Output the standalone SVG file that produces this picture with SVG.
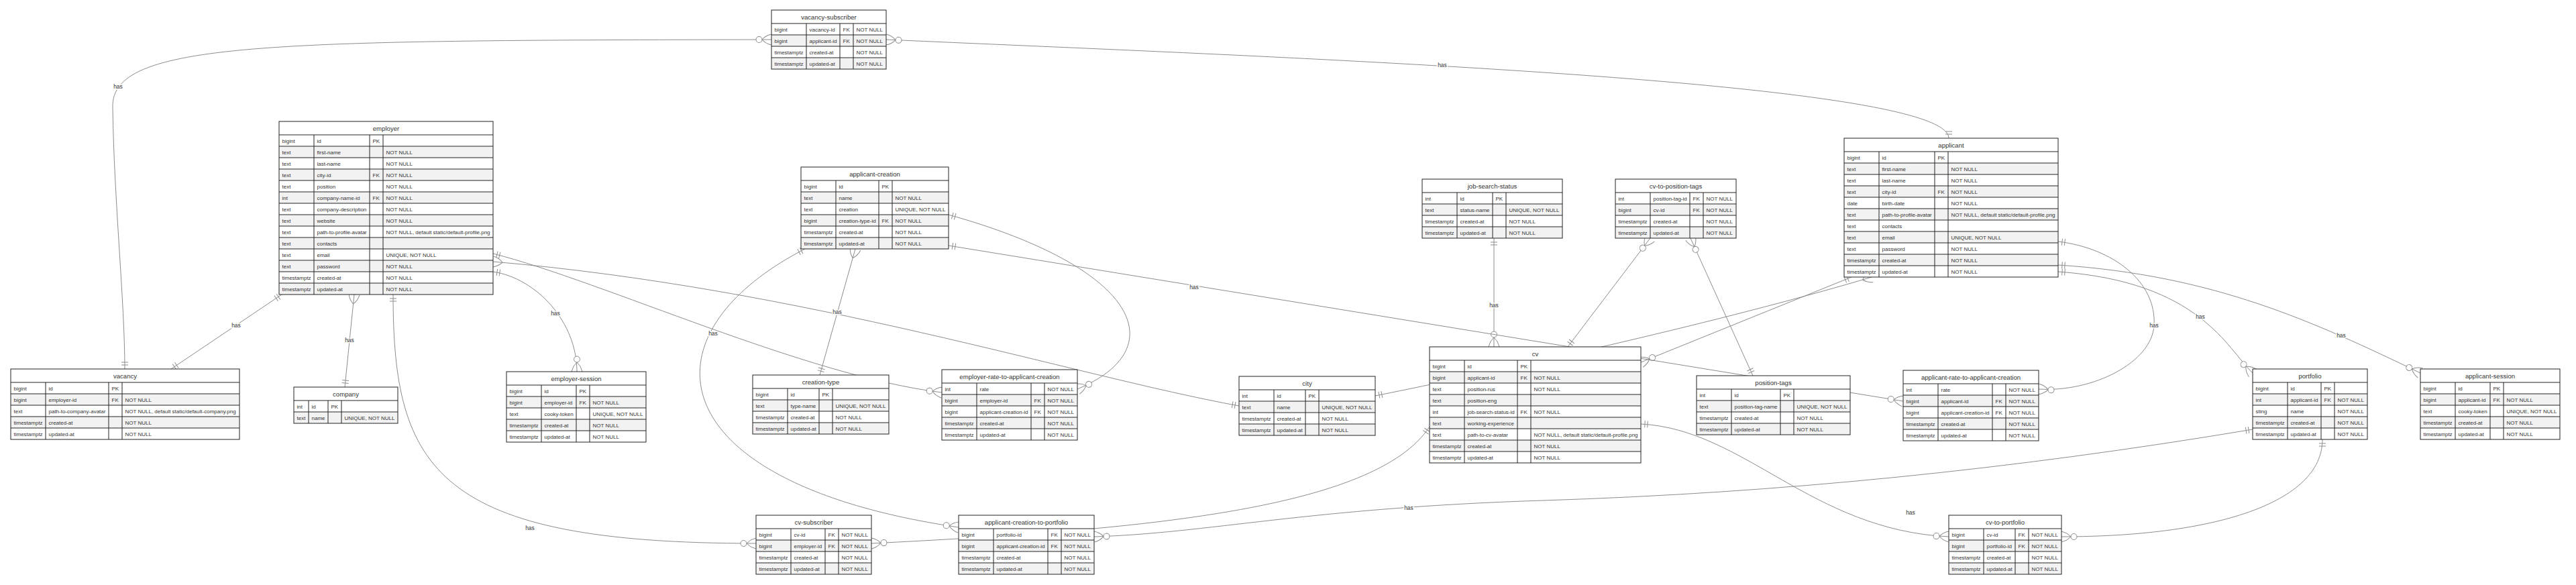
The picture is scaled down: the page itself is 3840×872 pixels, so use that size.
<svg xmlns="http://www.w3.org/2000/svg" width="3840" height="872" viewBox="0 0 3840 872">
<style>
.bg{fill:#fff}
.g{fill:#f2f2f2}
.gr{fill:none;stroke:#222;stroke-width:1}
.ob{fill:none;stroke:#222;stroke-width:1}
.t{font-family:"Liberation Sans",Arial,sans-serif;font-size:8px;fill:#333}
.h{font-family:"Liberation Sans",Arial,sans-serif;font-size:9.6px;fill:#333;text-anchor:middle}
.c{fill:none;stroke:#8c8c8c;stroke-width:1}
.lbl{font-family:"Liberation Sans",Arial,sans-serif;font-size:8.5px;fill:#333;text-anchor:middle;stroke:#fff;stroke-width:3;paint-order:stroke}
.mk{fill:none;stroke:#8c8c8c;stroke-width:1}
.mc{fill:#fff;stroke:#8c8c8c;stroke-width:1}
</style>
<defs>
<marker id="mo" markerUnits="userSpaceOnUse" markerWidth="1" markerHeight="1" refX="0" refY="0" orient="auto-start-reverse" overflow="visible"><path class="mk" d="M0,-8Q-9,-6 -14,0M0,8Q-9,6 -14,0"/><circle class="mc" cx="-18.5" cy="0" r="4.5"/></marker>
<marker id="mn" markerUnits="userSpaceOnUse" markerWidth="1" markerHeight="1" refX="0" refY="0" orient="auto-start-reverse" overflow="visible"><path class="mk" d="M0,-8Q-9,-6 -14,0M0,8Q-9,6 -14,0"/></marker>
<marker id="o1" markerUnits="userSpaceOnUse" markerWidth="1" markerHeight="1" refX="0" refY="0" orient="auto-start-reverse" overflow="visible"><path class="mk" d="M-6,-5V5M-10,-5V5"/></marker>
</defs>
<rect width="3840" height="872" fill="#fff"/>
<g id="connectors">
<path class="c" d="M1150,59C400,60 165,62 168,160C170,300 186,450 186,550" marker-start="url(#mo)" marker-end="url(#o1)"/>
<path class="c" d="M1321,59C1900,85 2905,120 2905,206" marker-start="url(#mo)" marker-end="url(#o1)"/>
<path class="c" d="M420,439L255,550" marker-start="url(#o1)" marker-end="url(#o1)"/>
<path class="c" d="M528,439L514,577" marker-start="url(#mn)" marker-end="url(#o1)"/>
<path class="c" d="M735,405C800,415 860,480 860,554" marker-start="url(#o1)" marker-end="url(#mo)"/>
<path class="c" d="M586,439C586,700 650,810 1127,810" marker-start="url(#o1)" marker-end="url(#mo)"/>
<path class="c" d="M735,378C900,420 1200,560 1404,585" marker-start="url(#o1)" marker-end="url(#mo)"/>
<path class="c" d="M1275,371L1222,559" marker-start="url(#mn)" marker-end="url(#o1)"/>
<path class="c" d="M1200,371C950,500 980,720 1429,786" marker-start="url(#o1)" marker-end="url(#mo)"/>
<path class="c" d="M1299,810C1700,790 2050,760 2131,636" marker-start="url(#mo)" marker-end="url(#o1)"/>
<path class="c" d="M2227,355L2227,517" marker-start="url(#o1)" marker-end="url(#mo)"/>
<path class="c" d="M2460,355L2337,517" marker-start="url(#mo)" marker-end="url(#o1)"/>
<path class="c" d="M2520,355L2613,560" marker-start="url(#mo)" marker-end="url(#o1)"/>
<path class="c" d="M2760,413L2446,540" marker-start="url(#o1)" marker-end="url(#mo)"/>
<path class="c" d="M3068,360C3150,370 3215,420 3211,485C3208,540 3120,585 3039,580" marker-start="url(#o1)" marker-end="url(#mo)"/>
<path class="c" d="M1414,366L2837,598" marker-start="url(#o1)" marker-end="url(#mo)"/>
<path class="c" d="M1414,320C1700,400 1750,520 1606,580" marker-start="url(#o1)" marker-end="url(#mo)"/>
<path class="c" d="M3068,405C3280,420 3320,520 3358,556" marker-start="url(#o1)" marker-end="url(#mo)"/>
<path class="c" d="M3068,395C3300,410 3450,480 3608,556" marker-start="url(#o1)" marker-end="url(#mo)"/>
<path class="c" d="M3358,640C3000,700 2650,735 2300,746S1800,795 1631,800" marker-start="url(#o1)" marker-end="url(#mo)"/>
<path class="c" d="M3462,655C3462,750 3300,800 3073,800" marker-start="url(#o1)" marker-end="url(#mo)"/>
<path class="c" d="M2446,632C2600,640 2700,790 2905,800" marker-start="url(#o1)" marker-end="url(#mo)"/>
<path class="c" d="M2050,590C2300,540 2600,470 2790,413" marker-start="url(#o1)" marker-end="url(#mn)"/>
<path class="c" d="M735,390C1200,430 1600,560 1847,605" marker-start="url(#mn)" marker-end="url(#o1)"/>
<text class="lbl" x="176" y="132">has</text>
<text class="lbl" x="2150" y="100">has</text>
<text class="lbl" x="352" y="488">has</text>
<text class="lbl" x="521" y="510">has</text>
<text class="lbl" x="828" y="470">has</text>
<text class="lbl" x="790" y="790">has</text>
<text class="lbl" x="1063" y="500">has</text>
<text class="lbl" x="1248" y="468">has</text>
<text class="lbl" x="2227" y="458">has</text>
<text class="lbl" x="2435" y="526">has</text>
<text class="lbl" x="1780" y="431">has</text>
<text class="lbl" x="3211" y="488">has</text>
<text class="lbl" x="3280" y="475">has</text>
<text class="lbl" x="3490" y="503">has</text>
<text class="lbl" x="2100" y="760">has</text>
<text class="lbl" x="2848" y="767">has</text>
</g>
<g id="vacancy-subscriber" transform="translate(1150,15)">
<rect class="bg" width="171" height="88"/><rect class="g" y="37" width="171" height="17"/><rect class="g" y="71" width="171" height="17"/>
<path class="gr" d="M0,20H171M0,37H171M0,54H171M0,71H171M52,20V88M102,20V88M122,20V88"/><rect class="ob" width="171" height="88"/>
<text class="h" x="85.5" y="13.5">vacancy-subscriber</text>
<text class="t" y="31.5"><tspan x="4.5">bigint</tspan><tspan x="56.5">vacancy-id</tspan><tspan x="106.5">FK</tspan><tspan x="126.5">NOT NULL</tspan></text>
<text class="t" y="48.5"><tspan x="4.5">bigint</tspan><tspan x="56.5">applicant-id</tspan><tspan x="106.5">FK</tspan><tspan x="126.5">NOT NULL</tspan></text>
<text class="t" y="65.5"><tspan x="4.5">timestamptz</tspan><tspan x="56.5">created-at</tspan><tspan x="126.5">NOT NULL</tspan></text>
<text class="t" y="82.5"><tspan x="4.5">timestamptz</tspan><tspan x="56.5">updated-at</tspan><tspan x="126.5">NOT NULL</tspan></text>
</g>
<g id="employer" transform="translate(416,181)">
<rect class="bg" width="319" height="258"/><rect class="g" y="37" width="319" height="17"/><rect class="g" y="71" width="319" height="17"/><rect class="g" y="105" width="319" height="17"/><rect class="g" y="139" width="319" height="17"/><rect class="g" y="173" width="319" height="17"/><rect class="g" y="207" width="319" height="17"/><rect class="g" y="241" width="319" height="17"/>
<path class="gr" d="M0,20H319M0,37H319M0,54H319M0,71H319M0,88H319M0,105H319M0,122H319M0,139H319M0,156H319M0,173H319M0,190H319M0,207H319M0,224H319M0,241H319M52,20V258M135,20V258M155,20V258"/><rect class="ob" width="319" height="258"/>
<text class="h" x="159.5" y="13.5">employer</text>
<text class="t" y="31.5"><tspan x="4.5">bigint</tspan><tspan x="56.5">id</tspan><tspan x="139.5">PK</tspan></text>
<text class="t" y="48.5"><tspan x="4.5">text</tspan><tspan x="56.5">first-name</tspan><tspan x="159.5">NOT NULL</tspan></text>
<text class="t" y="65.5"><tspan x="4.5">text</tspan><tspan x="56.5">last-name</tspan><tspan x="159.5">NOT NULL</tspan></text>
<text class="t" y="82.5"><tspan x="4.5">text</tspan><tspan x="56.5">city-id</tspan><tspan x="139.5">FK</tspan><tspan x="159.5">NOT NULL</tspan></text>
<text class="t" y="99.5"><tspan x="4.5">text</tspan><tspan x="56.5">position</tspan><tspan x="159.5">NOT NULL</tspan></text>
<text class="t" y="116.5"><tspan x="4.5">int</tspan><tspan x="56.5">company-name-id</tspan><tspan x="139.5">FK</tspan><tspan x="159.5">NOT NULL</tspan></text>
<text class="t" y="133.5"><tspan x="4.5">text</tspan><tspan x="56.5">company-description</tspan><tspan x="159.5">NOT NULL</tspan></text>
<text class="t" y="150.5"><tspan x="4.5">text</tspan><tspan x="56.5">website</tspan><tspan x="159.5">NOT NULL</tspan></text>
<text class="t" y="167.5"><tspan x="4.5">text</tspan><tspan x="56.5">path-to-profile-avatar</tspan><tspan x="159.5">NOT NULL, default static/default-profile.png</tspan></text>
<text class="t" y="184.5"><tspan x="4.5">text</tspan><tspan x="56.5">contacts</tspan></text>
<text class="t" y="201.5"><tspan x="4.5">text</tspan><tspan x="56.5">email</tspan><tspan x="159.5">UNIQUE, NOT NULL</tspan></text>
<text class="t" y="218.5"><tspan x="4.5">text</tspan><tspan x="56.5">password</tspan><tspan x="159.5">NOT NULL</tspan></text>
<text class="t" y="235.5"><tspan x="4.5">timestamptz</tspan><tspan x="56.5">created-at</tspan><tspan x="159.5">NOT NULL</tspan></text>
<text class="t" y="252.5"><tspan x="4.5">timestamptz</tspan><tspan x="56.5">updated-at</tspan><tspan x="159.5">NOT NULL</tspan></text>
</g>
<g id="applicant-creation" transform="translate(1194,249)">
<rect class="bg" width="220" height="122"/><rect class="g" y="37" width="220" height="17"/><rect class="g" y="71" width="220" height="17"/><rect class="g" y="105" width="220" height="17"/>
<path class="gr" d="M0,20H220M0,37H220M0,54H220M0,71H220M0,88H220M0,105H220M52,20V122M116,20V122M136,20V122"/><rect class="ob" width="220" height="122"/>
<text class="h" x="110" y="13.5">applicant-creation</text>
<text class="t" y="31.5"><tspan x="4.5">bigint</tspan><tspan x="56.5">id</tspan><tspan x="120.5">PK</tspan></text>
<text class="t" y="48.5"><tspan x="4.5">text</tspan><tspan x="56.5">name</tspan><tspan x="140.5">NOT NULL</tspan></text>
<text class="t" y="65.5"><tspan x="4.5">text</tspan><tspan x="56.5">creation</tspan><tspan x="140.5">UNIQUE, NOT NULL</tspan></text>
<text class="t" y="82.5"><tspan x="4.5">bigint</tspan><tspan x="56.5">creation-type-id</tspan><tspan x="120.5">FK</tspan><tspan x="140.5">NOT NULL</tspan></text>
<text class="t" y="99.5"><tspan x="4.5">timestamptz</tspan><tspan x="56.5">created-at</tspan><tspan x="140.5">NOT NULL</tspan></text>
<text class="t" y="116.5"><tspan x="4.5">timestamptz</tspan><tspan x="56.5">updated-at</tspan><tspan x="140.5">NOT NULL</tspan></text>
</g>
<g id="job-search-status" transform="translate(2120,267)">
<rect class="bg" width="209" height="88"/><rect class="g" y="37" width="209" height="17"/><rect class="g" y="71" width="209" height="17"/>
<path class="gr" d="M0,20H209M0,37H209M0,54H209M0,71H209M52,20V88M105,20V88M125,20V88"/><rect class="ob" width="209" height="88"/>
<text class="h" x="104.5" y="13.5">job-search-status</text>
<text class="t" y="31.5"><tspan x="4.5">int</tspan><tspan x="56.5">id</tspan><tspan x="109.5">PK</tspan></text>
<text class="t" y="48.5"><tspan x="4.5">text</tspan><tspan x="56.5">status-name</tspan><tspan x="129.5">UNIQUE, NOT NULL</tspan></text>
<text class="t" y="65.5"><tspan x="4.5">timestamptz</tspan><tspan x="56.5">created-at</tspan><tspan x="129.5">NOT NULL</tspan></text>
<text class="t" y="82.5"><tspan x="4.5">timestamptz</tspan><tspan x="56.5">updated-at</tspan><tspan x="129.5">NOT NULL</tspan></text>
</g>
<g id="cv-to-position-tags" transform="translate(2408,267)">
<rect class="bg" width="180" height="88"/><rect class="g" y="37" width="180" height="17"/><rect class="g" y="71" width="180" height="17"/>
<path class="gr" d="M0,20H180M0,37H180M0,54H180M0,71H180M52,20V88M111,20V88M131,20V88"/><rect class="ob" width="180" height="88"/>
<text class="h" x="90" y="13.5">cv-to-position-tags</text>
<text class="t" y="31.5"><tspan x="4.5">int</tspan><tspan x="56.5">position-tag-id</tspan><tspan x="115.5">FK</tspan><tspan x="135.5">NOT NULL</tspan></text>
<text class="t" y="48.5"><tspan x="4.5">bigint</tspan><tspan x="56.5">cv-id</tspan><tspan x="115.5">FK</tspan><tspan x="135.5">NOT NULL</tspan></text>
<text class="t" y="65.5"><tspan x="4.5">timestamptz</tspan><tspan x="56.5">created-at</tspan><tspan x="135.5">NOT NULL</tspan></text>
<text class="t" y="82.5"><tspan x="4.5">timestamptz</tspan><tspan x="56.5">updated-at</tspan><tspan x="135.5">NOT NULL</tspan></text>
</g>
<g id="applicant" transform="translate(2749,206)">
<rect class="bg" width="319" height="207"/><rect class="g" y="37" width="319" height="17"/><rect class="g" y="71" width="319" height="17"/><rect class="g" y="105" width="319" height="17"/><rect class="g" y="139" width="319" height="17"/><rect class="g" y="173" width="319" height="17"/>
<path class="gr" d="M0,20H319M0,37H319M0,54H319M0,71H319M0,88H319M0,105H319M0,122H319M0,139H319M0,156H319M0,173H319M0,190H319M52,20V207M135,20V207M155,20V207"/><rect class="ob" width="319" height="207"/>
<text class="h" x="159.5" y="13.5">applicant</text>
<text class="t" y="31.5"><tspan x="4.5">bigint</tspan><tspan x="56.5">id</tspan><tspan x="139.5">PK</tspan></text>
<text class="t" y="48.5"><tspan x="4.5">text</tspan><tspan x="56.5">first-name</tspan><tspan x="159.5">NOT NULL</tspan></text>
<text class="t" y="65.5"><tspan x="4.5">text</tspan><tspan x="56.5">last-name</tspan><tspan x="159.5">NOT NULL</tspan></text>
<text class="t" y="82.5"><tspan x="4.5">text</tspan><tspan x="56.5">city-id</tspan><tspan x="139.5">FK</tspan><tspan x="159.5">NOT NULL</tspan></text>
<text class="t" y="99.5"><tspan x="4.5">date</tspan><tspan x="56.5">birth-date</tspan><tspan x="159.5">NOT NULL</tspan></text>
<text class="t" y="116.5"><tspan x="4.5">text</tspan><tspan x="56.5">path-to-profile-avatar</tspan><tspan x="159.5">NOT NULL, default static/default-profile.png</tspan></text>
<text class="t" y="133.5"><tspan x="4.5">text</tspan><tspan x="56.5">contacts</tspan></text>
<text class="t" y="150.5"><tspan x="4.5">text</tspan><tspan x="56.5">email</tspan><tspan x="159.5">UNIQUE, NOT NULL</tspan></text>
<text class="t" y="167.5"><tspan x="4.5">text</tspan><tspan x="56.5">password</tspan><tspan x="159.5">NOT NULL</tspan></text>
<text class="t" y="184.5"><tspan x="4.5">timestamptz</tspan><tspan x="56.5">created-at</tspan><tspan x="159.5">NOT NULL</tspan></text>
<text class="t" y="201.5"><tspan x="4.5">timestamptz</tspan><tspan x="56.5">updated-at</tspan><tspan x="159.5">NOT NULL</tspan></text>
</g>
<g id="vacancy" transform="translate(16,550)">
<rect class="bg" width="341" height="105"/><rect class="g" y="37" width="341" height="17"/><rect class="g" y="71" width="341" height="17"/>
<path class="gr" d="M0,20H341M0,37H341M0,54H341M0,71H341M0,88H341M52,20V105M146,20V105M166,20V105"/><rect class="ob" width="341" height="105"/>
<text class="h" x="170.5" y="13.5">vacancy</text>
<text class="t" y="31.5"><tspan x="4.5">bigint</tspan><tspan x="56.5">id</tspan><tspan x="150.5">PK</tspan></text>
<text class="t" y="48.5"><tspan x="4.5">bigint</tspan><tspan x="56.5">employer-id</tspan><tspan x="150.5">FK</tspan><tspan x="170.5">NOT NULL</tspan></text>
<text class="t" y="65.5"><tspan x="4.5">text</tspan><tspan x="56.5">path-to-company-avatar</tspan><tspan x="170.5">NOT NULL, default static/default-company.png</tspan></text>
<text class="t" y="82.5"><tspan x="4.5">timestamptz</tspan><tspan x="56.5">created-at</tspan><tspan x="170.5">NOT NULL</tspan></text>
<text class="t" y="99.5"><tspan x="4.5">timestamptz</tspan><tspan x="56.5">updated-at</tspan><tspan x="170.5">NOT NULL</tspan></text>
</g>
<g id="company" transform="translate(438,577)">
<rect class="bg" width="155" height="54"/><rect class="g" y="37" width="155" height="17"/>
<path class="gr" d="M0,20H155M0,37H155M22,20V54M51,20V54M71,20V54"/><rect class="ob" width="155" height="54"/>
<text class="h" x="77.5" y="13.5">company</text>
<text class="t" y="31.5"><tspan x="4.5">int</tspan><tspan x="26.5">id</tspan><tspan x="55.5">PK</tspan></text>
<text class="t" y="48.5"><tspan x="4.5">text</tspan><tspan x="26.5">name</tspan><tspan x="75.5">UNIQUE, NOT NULL</tspan></text>
</g>
<g id="employer-session" transform="translate(755,554)">
<rect class="bg" width="208" height="105"/><rect class="g" y="37" width="208" height="17"/><rect class="g" y="71" width="208" height="17"/>
<path class="gr" d="M0,20H208M0,37H208M0,54H208M0,71H208M0,88H208M52,20V105M104,20V105M124,20V105"/><rect class="ob" width="208" height="105"/>
<text class="h" x="104" y="13.5">employer-session</text>
<text class="t" y="31.5"><tspan x="4.5">bigint</tspan><tspan x="56.5">id</tspan><tspan x="108.5">PK</tspan></text>
<text class="t" y="48.5"><tspan x="4.5">bigint</tspan><tspan x="56.5">employer-id</tspan><tspan x="108.5">FK</tspan><tspan x="128.5">NOT NULL</tspan></text>
<text class="t" y="65.5"><tspan x="4.5">text</tspan><tspan x="56.5">cooky-token</tspan><tspan x="128.5">UNIQUE, NOT NULL</tspan></text>
<text class="t" y="82.5"><tspan x="4.5">timestamptz</tspan><tspan x="56.5">created-at</tspan><tspan x="128.5">NOT NULL</tspan></text>
<text class="t" y="99.5"><tspan x="4.5">timestamptz</tspan><tspan x="56.5">updated-at</tspan><tspan x="128.5">NOT NULL</tspan></text>
</g>
<g id="creation-type" transform="translate(1122,559)">
<rect class="bg" width="203" height="88"/><rect class="g" y="37" width="203" height="17"/><rect class="g" y="71" width="203" height="17"/>
<path class="gr" d="M0,20H203M0,37H203M0,54H203M0,71H203M52,20V88M99,20V88M119,20V88"/><rect class="ob" width="203" height="88"/>
<text class="h" x="101.5" y="13.5">creation-type</text>
<text class="t" y="31.5"><tspan x="4.5">bigint</tspan><tspan x="56.5">id</tspan><tspan x="103.5">PK</tspan></text>
<text class="t" y="48.5"><tspan x="4.5">text</tspan><tspan x="56.5">type-name</tspan><tspan x="123.5">UNIQUE, NOT NULL</tspan></text>
<text class="t" y="65.5"><tspan x="4.5">timestamptz</tspan><tspan x="56.5">created-at</tspan><tspan x="123.5">NOT NULL</tspan></text>
<text class="t" y="82.5"><tspan x="4.5">timestamptz</tspan><tspan x="56.5">updated-at</tspan><tspan x="123.5">NOT NULL</tspan></text>
</g>
<g id="employer-rate-to-applicant-creation" transform="translate(1404,551)">
<rect class="bg" width="202" height="105"/><rect class="g" y="37" width="202" height="17"/><rect class="g" y="71" width="202" height="17"/>
<path class="gr" d="M0,20H202M0,37H202M0,54H202M0,71H202M0,88H202M52,20V105M133,20V105M153,20V105"/><rect class="ob" width="202" height="105"/>
<text class="h" x="101" y="13.5">employer-rate-to-applicant-creation</text>
<text class="t" y="31.5"><tspan x="4.5">int</tspan><tspan x="56.5">rate</tspan><tspan x="157.5">NOT NULL</tspan></text>
<text class="t" y="48.5"><tspan x="4.5">bigint</tspan><tspan x="56.5">employer-id</tspan><tspan x="137.5">FK</tspan><tspan x="157.5">NOT NULL</tspan></text>
<text class="t" y="65.5"><tspan x="4.5">bigint</tspan><tspan x="56.5">applicant-creation-id</tspan><tspan x="137.5">FK</tspan><tspan x="157.5">NOT NULL</tspan></text>
<text class="t" y="82.5"><tspan x="4.5">timestamptz</tspan><tspan x="56.5">created-at</tspan><tspan x="157.5">NOT NULL</tspan></text>
<text class="t" y="99.5"><tspan x="4.5">timestamptz</tspan><tspan x="56.5">updated-at</tspan><tspan x="157.5">NOT NULL</tspan></text>
</g>
<g id="city" transform="translate(1847,561)">
<rect class="bg" width="203" height="88"/><rect class="g" y="37" width="203" height="17"/><rect class="g" y="71" width="203" height="17"/>
<path class="gr" d="M0,20H203M0,37H203M0,54H203M0,71H203M52,20V88M99,20V88M119,20V88"/><rect class="ob" width="203" height="88"/>
<text class="h" x="101.5" y="13.5">city</text>
<text class="t" y="31.5"><tspan x="4.5">int</tspan><tspan x="56.5">id</tspan><tspan x="103.5">PK</tspan></text>
<text class="t" y="48.5"><tspan x="4.5">text</tspan><tspan x="56.5">name</tspan><tspan x="123.5">UNIQUE, NOT NULL</tspan></text>
<text class="t" y="65.5"><tspan x="4.5">timestamptz</tspan><tspan x="56.5">created-at</tspan><tspan x="123.5">NOT NULL</tspan></text>
<text class="t" y="82.5"><tspan x="4.5">timestamptz</tspan><tspan x="56.5">updated-at</tspan><tspan x="123.5">NOT NULL</tspan></text>
</g>
<g id="cv" transform="translate(2131,517)">
<rect class="bg" width="315" height="173"/><rect class="g" y="37" width="315" height="17"/><rect class="g" y="71" width="315" height="17"/><rect class="g" y="105" width="315" height="17"/><rect class="g" y="139" width="315" height="17"/>
<path class="gr" d="M0,20H315M0,37H315M0,54H315M0,71H315M0,88H315M0,105H315M0,122H315M0,139H315M0,156H315M52,20V173M131,20V173M151,20V173"/><rect class="ob" width="315" height="173"/>
<text class="h" x="157.5" y="13.5">cv</text>
<text class="t" y="31.5"><tspan x="4.5">bigint</tspan><tspan x="56.5">id</tspan><tspan x="135.5">PK</tspan></text>
<text class="t" y="48.5"><tspan x="4.5">bigint</tspan><tspan x="56.5">applicant-id</tspan><tspan x="135.5">FK</tspan><tspan x="155.5">NOT NULL</tspan></text>
<text class="t" y="65.5"><tspan x="4.5">text</tspan><tspan x="56.5">position-rus</tspan><tspan x="155.5">NOT NULL</tspan></text>
<text class="t" y="82.5"><tspan x="4.5">text</tspan><tspan x="56.5">position-eng</tspan></text>
<text class="t" y="99.5"><tspan x="4.5">int</tspan><tspan x="56.5">job-search-status-id</tspan><tspan x="135.5">FK</tspan><tspan x="155.5">NOT NULL</tspan></text>
<text class="t" y="116.5"><tspan x="4.5">text</tspan><tspan x="56.5">working-experience</tspan></text>
<text class="t" y="133.5"><tspan x="4.5">text</tspan><tspan x="56.5">path-to-cv-avatar</tspan><tspan x="155.5">NOT NULL, default static/default-profile.png</tspan></text>
<text class="t" y="150.5"><tspan x="4.5">timestamptz</tspan><tspan x="56.5">created-at</tspan><tspan x="155.5">NOT NULL</tspan></text>
<text class="t" y="167.5"><tspan x="4.5">timestamptz</tspan><tspan x="56.5">updated-at</tspan><tspan x="155.5">NOT NULL</tspan></text>
</g>
<g id="position-tags" transform="translate(2529,560)">
<rect class="bg" width="229" height="88"/><rect class="g" y="37" width="229" height="17"/><rect class="g" y="71" width="229" height="17"/>
<path class="gr" d="M0,20H229M0,37H229M0,54H229M0,71H229M52,20V88M125,20V88M145,20V88"/><rect class="ob" width="229" height="88"/>
<text class="h" x="114.5" y="13.5">position-tags</text>
<text class="t" y="31.5"><tspan x="4.5">int</tspan><tspan x="56.5">id</tspan><tspan x="129.5">PK</tspan></text>
<text class="t" y="48.5"><tspan x="4.5">text</tspan><tspan x="56.5">position-tag-name</tspan><tspan x="149.5">UNIQUE, NOT NULL</tspan></text>
<text class="t" y="65.5"><tspan x="4.5">timestamptz</tspan><tspan x="56.5">created-at</tspan><tspan x="149.5">NOT NULL</tspan></text>
<text class="t" y="82.5"><tspan x="4.5">timestamptz</tspan><tspan x="56.5">updated-at</tspan><tspan x="149.5">NOT NULL</tspan></text>
</g>
<g id="applicant-rate-to-applicant-creation" transform="translate(2837,552)">
<rect class="bg" width="202" height="105"/><rect class="g" y="37" width="202" height="17"/><rect class="g" y="71" width="202" height="17"/>
<path class="gr" d="M0,20H202M0,37H202M0,54H202M0,71H202M0,88H202M52,20V105M133,20V105M153,20V105"/><rect class="ob" width="202" height="105"/>
<text class="h" x="101" y="13.5">applicant-rate-to-applicant-creation</text>
<text class="t" y="31.5"><tspan x="4.5">int</tspan><tspan x="56.5">rate</tspan><tspan x="157.5">NOT NULL</tspan></text>
<text class="t" y="48.5"><tspan x="4.5">bigint</tspan><tspan x="56.5">applicant-id</tspan><tspan x="137.5">FK</tspan><tspan x="157.5">NOT NULL</tspan></text>
<text class="t" y="65.5"><tspan x="4.5">bigint</tspan><tspan x="56.5">applicant-creation-id</tspan><tspan x="137.5">FK</tspan><tspan x="157.5">NOT NULL</tspan></text>
<text class="t" y="82.5"><tspan x="4.5">timestamptz</tspan><tspan x="56.5">created-at</tspan><tspan x="157.5">NOT NULL</tspan></text>
<text class="t" y="99.5"><tspan x="4.5">timestamptz</tspan><tspan x="56.5">updated-at</tspan><tspan x="157.5">NOT NULL</tspan></text>
</g>
<g id="portfolio" transform="translate(3358,550)">
<rect class="bg" width="171" height="105"/><rect class="g" y="37" width="171" height="17"/><rect class="g" y="71" width="171" height="17"/>
<path class="gr" d="M0,20H171M0,37H171M0,54H171M0,71H171M0,88H171M52,20V105M102,20V105M122,20V105"/><rect class="ob" width="171" height="105"/>
<text class="h" x="85.5" y="13.5">portfolio</text>
<text class="t" y="31.5"><tspan x="4.5">bigint</tspan><tspan x="56.5">id</tspan><tspan x="106.5">PK</tspan></text>
<text class="t" y="48.5"><tspan x="4.5">int</tspan><tspan x="56.5">applicant-id</tspan><tspan x="106.5">FK</tspan><tspan x="126.5">NOT NULL</tspan></text>
<text class="t" y="65.5"><tspan x="4.5">sting</tspan><tspan x="56.5">name</tspan><tspan x="126.5">NOT NULL</tspan></text>
<text class="t" y="82.5"><tspan x="4.5">timestamptz</tspan><tspan x="56.5">created-at</tspan><tspan x="126.5">NOT NULL</tspan></text>
<text class="t" y="99.5"><tspan x="4.5">timestamptz</tspan><tspan x="56.5">updated-at</tspan><tspan x="126.5">NOT NULL</tspan></text>
</g>
<g id="applicant-session" transform="translate(3608,550)">
<rect class="bg" width="208" height="105"/><rect class="g" y="37" width="208" height="17"/><rect class="g" y="71" width="208" height="17"/>
<path class="gr" d="M0,20H208M0,37H208M0,54H208M0,71H208M0,88H208M52,20V105M104,20V105M124,20V105"/><rect class="ob" width="208" height="105"/>
<text class="h" x="104" y="13.5">applicant-session</text>
<text class="t" y="31.5"><tspan x="4.5">bigint</tspan><tspan x="56.5">id</tspan><tspan x="108.5">PK</tspan></text>
<text class="t" y="48.5"><tspan x="4.5">bigint</tspan><tspan x="56.5">applicant-id</tspan><tspan x="108.5">FK</tspan><tspan x="128.5">NOT NULL</tspan></text>
<text class="t" y="65.5"><tspan x="4.5">text</tspan><tspan x="56.5">cooky-token</tspan><tspan x="128.5">UNIQUE, NOT NULL</tspan></text>
<text class="t" y="82.5"><tspan x="4.5">timestamptz</tspan><tspan x="56.5">created-at</tspan><tspan x="128.5">NOT NULL</tspan></text>
<text class="t" y="99.5"><tspan x="4.5">timestamptz</tspan><tspan x="56.5">updated-at</tspan><tspan x="128.5">NOT NULL</tspan></text>
</g>
<g id="cv-subscriber" transform="translate(1127,768)">
<rect class="bg" width="172" height="88"/><rect class="g" y="37" width="172" height="17"/><rect class="g" y="71" width="172" height="17"/>
<path class="gr" d="M0,20H172M0,37H172M0,54H172M0,71H172M52,20V88M103,20V88M123,20V88"/><rect class="ob" width="172" height="88"/>
<text class="h" x="86" y="13.5">cv-subscriber</text>
<text class="t" y="31.5"><tspan x="4.5">bigint</tspan><tspan x="56.5">cv-id</tspan><tspan x="107.5">FK</tspan><tspan x="127.5">NOT NULL</tspan></text>
<text class="t" y="48.5"><tspan x="4.5">bigint</tspan><tspan x="56.5">employer-id</tspan><tspan x="107.5">FK</tspan><tspan x="127.5">NOT NULL</tspan></text>
<text class="t" y="65.5"><tspan x="4.5">timestamptz</tspan><tspan x="56.5">created-at</tspan><tspan x="127.5">NOT NULL</tspan></text>
<text class="t" y="82.5"><tspan x="4.5">timestamptz</tspan><tspan x="56.5">updated-at</tspan><tspan x="127.5">NOT NULL</tspan></text>
</g>
<g id="applicant-creation-to-portfolio" transform="translate(1429,768)">
<rect class="bg" width="202" height="88"/><rect class="g" y="37" width="202" height="17"/><rect class="g" y="71" width="202" height="17"/>
<path class="gr" d="M0,20H202M0,37H202M0,54H202M0,71H202M52,20V88M133,20V88M153,20V88"/><rect class="ob" width="202" height="88"/>
<text class="h" x="101" y="13.5">applicant-creation-to-portfolio</text>
<text class="t" y="31.5"><tspan x="4.5">bigint</tspan><tspan x="56.5">portfolio-id</tspan><tspan x="137.5">FK</tspan><tspan x="157.5">NOT NULL</tspan></text>
<text class="t" y="48.5"><tspan x="4.5">bigint</tspan><tspan x="56.5">applicant-creation-id</tspan><tspan x="137.5">FK</tspan><tspan x="157.5">NOT NULL</tspan></text>
<text class="t" y="65.5"><tspan x="4.5">timestamptz</tspan><tspan x="56.5">created-at</tspan><tspan x="157.5">NOT NULL</tspan></text>
<text class="t" y="82.5"><tspan x="4.5">timestamptz</tspan><tspan x="56.5">updated-at</tspan><tspan x="157.5">NOT NULL</tspan></text>
</g>
<g id="cv-to-portfolio" transform="translate(2905,768)">
<rect class="bg" width="168" height="88"/><rect class="g" y="37" width="168" height="17"/><rect class="g" y="71" width="168" height="17"/>
<path class="gr" d="M0,20H168M0,37H168M0,54H168M0,71H168M52,20V88M99,20V88M119,20V88"/><rect class="ob" width="168" height="88"/>
<text class="h" x="84" y="13.5">cv-to-portfolio</text>
<text class="t" y="31.5"><tspan x="4.5">bigint</tspan><tspan x="56.5">cv-id</tspan><tspan x="103.5">FK</tspan><tspan x="123.5">NOT NULL</tspan></text>
<text class="t" y="48.5"><tspan x="4.5">bigint</tspan><tspan x="56.5">portfolio-id</tspan><tspan x="103.5">FK</tspan><tspan x="123.5">NOT NULL</tspan></text>
<text class="t" y="65.5"><tspan x="4.5">timestamptz</tspan><tspan x="56.5">created-at</tspan><tspan x="123.5">NOT NULL</tspan></text>
<text class="t" y="82.5"><tspan x="4.5">timestamptz</tspan><tspan x="56.5">updated-at</tspan><tspan x="123.5">NOT NULL</tspan></text>
</g>
</svg>
